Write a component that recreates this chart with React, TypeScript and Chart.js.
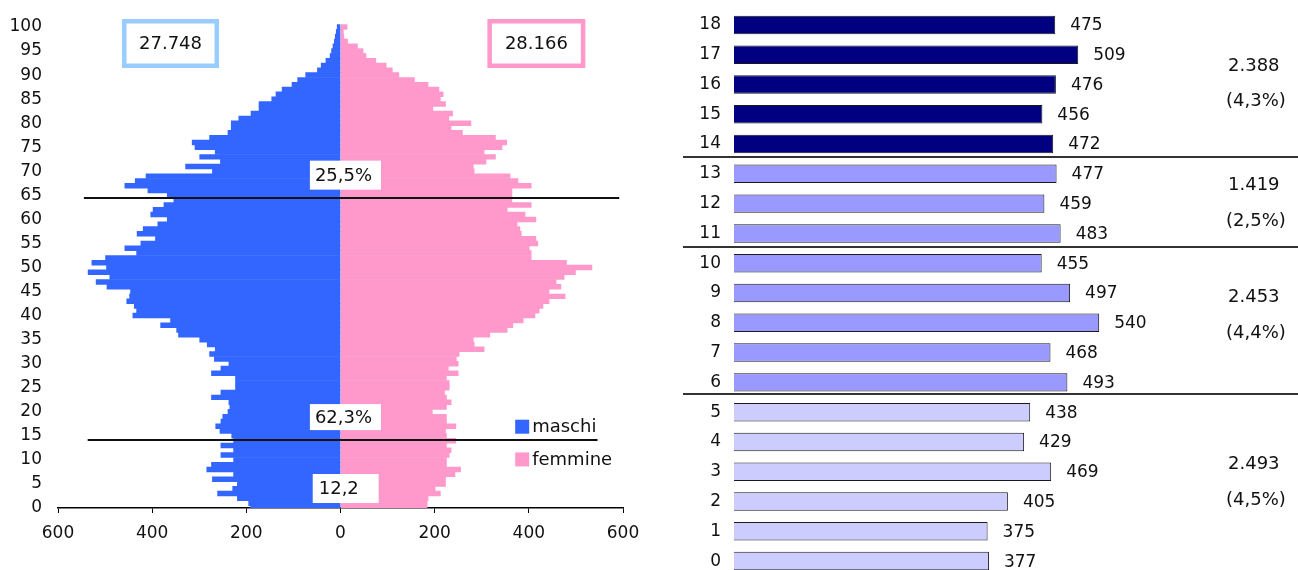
import React, { useEffect, useRef } from "react";
import { Chart, registerables } from "chart.js";

Chart.register(...registerables);

// ---------- Piramide per età (0-100) ----------
const ages = [
  0, 1, 2, 3, 4, 5, 6, 7, 8, 9, 10, 11, 12, 13, 14, 15, 16, 17, 18, 19,
  20, 21, 22, 23, 24, 25, 26, 27, 28, 29, 30, 31, 32, 33, 34, 35, 36, 37, 38, 39,
  40, 41, 42, 43, 44, 45, 46, 47, 48, 49, 50, 51, 52, 53, 54, 55, 56, 57, 58, 59,
  60, 61, 62, 63, 64, 65, 66, 67, 68, 69, 70, 71, 72, 73, 74, 75, 76, 77, 78, 79,
  80, 81, 82, 83, 84, 85, 86, 87, 88, 89, 90, 91, 92, 93, 94, 95, 96, 97, 98, 99, 100,
];

const maschi = [
  191, 195, 219, 261, 229, 219, 272, 227, 284, 274,
  227, 254, 227, 254, 227, 231, 256, 265, 254, 250,
  239, 235, 237, 274, 254, 223, 223, 223, 274, 254,
  237, 268, 278, 266, 283, 299, 344, 348, 382, 361,
  441, 433, 438, 454, 448, 446, 496, 519, 490, 536,
  497, 528, 499, 433, 458, 424, 393, 432, 419, 388,
  368, 403, 398, 375, 354, 368, 409, 458, 436, 413,
  272, 329, 255, 299, 266, 309, 315, 278, 239, 232,
  232, 216, 190, 173, 173, 146, 137, 124, 103, 91,
  74, 49, 41, 31, 22, 19, 16, 13, 11, 9, 7,
];

const femmine = [
  184, 184, 186, 212, 201, 223, 223, 243, 255, 225,
  225, 231, 235, 225, 245, 225, 223, 245, 225, 225,
  195, 225, 235, 225, 221, 231, 231, 225, 250, 229,
  250, 246, 252, 305, 284, 282, 317, 354, 366, 388,
  413, 422, 430, 443, 477, 443, 468, 458, 475, 499,
  534, 480, 405, 405, 401, 419, 415, 384, 381, 375,
  415, 392, 354, 405, 364, 364, 364, 405, 377, 360,
  284, 282, 309, 329, 305, 343, 353, 329, 259, 235,
  277, 230, 238, 196, 223, 212, 218, 209, 186, 157,
  124, 110, 97, 75, 54, 48, 36, 15, 7, 6, 14,
];

const totaleMaschi = "27.748";
const totaleFemmine = "28.166";
const quote = ["25,5%", "62,3%", "12,2"];
const legendaNomi = ["maschi", "femmine"];

// ---------- Età 0-18 ----------
const eta18 = ["0", "1", "2", "3", "4", "5", "6", "7", "8", "9", "10", "11", "12", "13", "14", "15", "16", "17", "18"];
const residenti18 = [377, 375, 405, 469, 429, 438, 493, 468, 540, 497, 455, 483, 459, 477, 472, 456, 476, 509, 475];
const gruppiTotali = ["2.493", "2.453", "1.419", "2.388"];
const gruppiQuote = ["(4,5%)", "(4,4%)", "(2,5%)", "(4,3%)"];

const FONT = "'DejaVu Sans', Verdana, sans-serif";
const BLUE = "#3366FF";
const PINK = "#FF99CC";

const pyramidDecor = {
  id: "pyramidDecor",
  afterDatasetsDraw(chart: any) {
    const { ctx } = chart;
    const x = chart.scales.x;
    const y = chart.scales.y;
    ctx.save();

    // separation lines (65+ / 15-64 / 0-14)
    ctx.strokeStyle = "#111";
    ctx.lineWidth = 2;
    ctx.beginPath();
    const yl1 = Math.round(y.getPixelForValue(64.4));
    ctx.moveTo(x.getPixelForValue(-545), yl1);
    ctx.lineTo(x.getPixelForValue(592), yl1);
    const yl2 = Math.round(y.getPixelForValue(14.2));
    ctx.moveTo(x.getPixelForValue(-537), yl2);
    ctx.lineTo(x.getPixelForValue(546), yl2);
    ctx.stroke();

    // percentage boxes
    const boxes = [
      { t: quote[0], age: 69.2, h: 29, l: -65, r: 86, pad: 5 },
      { t: quote[1], age: 18.9, h: 26, l: -65, r: 86, pad: 5 },
      { t: quote[2], age: 4.05, h: 29, l: -59, r: 81, pad: 6 },
    ];
    ctx.font = `18px ${FONT}`;
    ctx.textBaseline = "middle";
    ctx.textAlign = "left";
    for (const b of boxes) {
      const cy = y.getPixelForValue(b.age);
      const lx = x.getPixelForValue(b.l);
      const rx = x.getPixelForValue(b.r);
      ctx.fillStyle = "#fff";
      ctx.fillRect(lx, cy - b.h / 2, rx - lx, b.h);
      ctx.fillStyle = "#111";
      ctx.fillText(b.t, lx + b.pad, cy + 1);
    }

    // total boxes
    const tb = [
      { t: totaleMaschi, l: -464, r: -258, color: "#99CCFF" },
      { t: totaleFemmine, l: 312, r: 520, color: PINK },
    ];
    const top = y.getPixelForValue(100) - 8;
    const bh = 49;
    for (const b of tb) {
      const lx = x.getPixelForValue(b.l);
      const rx = x.getPixelForValue(b.r);
      ctx.fillStyle = "#fff";
      ctx.fillRect(lx, top, rx - lx, bh);
      ctx.strokeStyle = b.color;
      ctx.lineWidth = 4.5;
      ctx.strokeRect(lx + 2.25, top + 2.25, rx - lx - 4.5, bh - 4.5);
      ctx.fillStyle = "#111";
      ctx.textAlign = "center";
      ctx.fillText(b.t, (lx + rx) / 2, top + bh / 2 + 1);
    }

    // legend
    const lgX = x.getPixelForValue(371);
    const items = [
      { t: legendaNomi[0], c: BLUE, age: 16.9 },
      { t: legendaNomi[1], c: PINK, age: 10.1 },
    ];
    ctx.textAlign = "left";
    for (const it of items) {
      const cy = y.getPixelForValue(it.age);
      ctx.fillStyle = it.c;
      ctx.fillRect(lgX, cy - 7, 14, 14);
      ctx.fillStyle = "#111";
      ctx.fillText(it.t, lgX + 17, cy + 1);
    }
    ctx.restore();
  },
};

const rightDecor = {
  id: "rightDecor",
  afterDatasetsDraw(chart: any) {
    const { ctx } = chart;
    const y = chart.scales.y;
    const meta = chart.getDatasetMeta(0);
    ctx.save();
    ctx.font = `17px ${FONT}`;
    ctx.fillStyle = "#111";
    ctx.textAlign = "left";
    ctx.textBaseline = "middle";
    meta.data.forEach((bar: any, i: number) => {
      ctx.fillText(String(residenti18[i]), bar.x + 15, bar.y + 1);
    });

    // separators
    ctx.strokeStyle = "#333";
    ctx.lineWidth = 2;
    ctx.beginPath();
    for (const v of [13.58, 10.53, 5.6]) {
      const py = Math.round(y.getPixelForValue(v));
      ctx.moveTo(23, py);
      ctx.lineTo(chart.width, py);
    }
    ctx.stroke();

    // group labels
    ctx.font = `18px ${FONT}`;
    const pos = [
      [3.26, 2.05],
      [8.86, 7.65],
      [12.62, 11.41],
      [16.61, 15.44],
    ];
    for (let g = 0; g < 4; g++) {
      ctx.fillText(gruppiTotali[g], 568, y.getPixelForValue(pos[g][0]));
      ctx.fillText(gruppiQuote[g], 566, y.getPixelForValue(pos[g][1]));
    }
    ctx.restore();
  },
};

export default function App() {
  const leftRef = useRef<HTMLCanvasElement | null>(null);
  const rightRef = useRef<HTMLCanvasElement | null>(null);

  useEffect(() => {
    if (!leftRef.current || !rightRef.current) return;
    const tickFont = { family: FONT, size: 17 };

    const left = new Chart(leftRef.current, {
      type: "bar",
      data: {
        datasets: [
          {
            label: legendaNomi[0],
            data: ages.map((a, i) => ({ x: -maschi[i], y: a })),
            backgroundColor: BLUE,
            borderWidth: 0,
            grouped: false,
            barPercentage: 1,
            categoryPercentage: 1,
            clip: { left: 0, right: 0, top: 6, bottom: 0 },
          } as any,
          {
            label: legendaNomi[1],
            data: ages.map((a, i) => ({ x: femmine[i], y: a })),
            backgroundColor: PINK,
            borderWidth: 0,
            grouped: false,
            barPercentage: 1,
            categoryPercentage: 1,
            clip: { left: 0, right: 0, top: 6, bottom: 0 },
          } as any,
        ],
      },
      options: {
        indexAxis: "y",
        animation: false,
        responsive: false,
        maintainAspectRatio: false,
        layout: { padding: { left: 0, right: 37, top: 27, bottom: 20 } },
        scales: {
          x: {
            type: "linear",
            min: -600,
            max: 600,
            offset: false,
            ticks: {
              stepSize: 200,
              callback: (v: any) => String(Math.abs(Number(v))),
              font: tickFont,
              color: "#111",
              padding: 10,
              maxRotation: 0,
            },
            grid: { drawOnChartArea: false, tickLength: 5, color: "#000", offset: false },
            border: { display: true, color: "#000", width: 1.5 },
            afterFit: (s: any) => {
              s.height = 42;
              s.paddingLeft = 0;
              s.paddingRight = 0;
            },
          },
          y: {
            type: "linear",
            min: 0,
            max: 100,
            offset: false,
            ticks: { stepSize: 5, font: tickFont, color: "#111", padding: 16, autoSkip: false },
            grid: { display: false, drawTicks: false, offset: false },
            border: { display: false },
            afterFit: (s: any) => {
              s.width = 58;
              s.paddingTop = 0;
              s.paddingBottom = 0;
            },
          },
        },
        plugins: { legend: { display: false }, tooltip: { enabled: false } },
      } as any,
      plugins: [pyramidDecor],
    });

    const colori = residenti18.map((_, i) => (i <= 5 ? "#CCCCFF" : i <= 13 ? "#9999FF" : "#000080"));

    const right = new Chart(rightRef.current, {
      type: "bar",
      data: {
        labels: eta18,
        datasets: [
          {
            data: residenti18,
            backgroundColor: colori,
            borderColor: "#1a1a1a",
            borderWidth: 1,
            barPercentage: 0.62,
            categoryPercentage: 1,
          },
        ],
      },
      options: {
        indexAxis: "y",
        animation: false,
        responsive: false,
        maintainAspectRatio: false,
        layout: { padding: { left: 0, right: 23, top: 10, bottom: 24 } },
        scales: {
          x: { display: false, min: 0, max: 800 },
          y: {
            reverse: true,
            ticks: { font: tickFont, color: "#111", padding: 13, autoSkip: false },
            grid: { display: false, drawTicks: false },
            border: { display: false },
            afterFit: (s: any) => {
              s.width = 74;
              s.paddingTop = 0;
              s.paddingBottom = 0;
            },
          },
        },
        plugins: { legend: { display: false }, tooltip: { enabled: false } },
      } as any,
      plugins: [rightDecor],
    });

    return () => {
      left.destroy();
      right.destroy();
    };
  }, []);

  return (
    <div
      style={{
        position: "fixed",
        left: 0,
        top: 0,
        width: 1298,
        height: 570,
        overflow: "hidden",
        background: "#fff",
      }}
    >
      <canvas
        ref={leftRef}
        width={660}
        height={570}
        style={{ position: "absolute", left: 0, top: 0, width: 660, height: 570 }}
      />
      <canvas
        ref={rightRef}
        width={638}
        height={600}
        style={{ position: "absolute", left: 660, top: 0, width: 638, height: 600 }}
      />
    </div>
  );
}
